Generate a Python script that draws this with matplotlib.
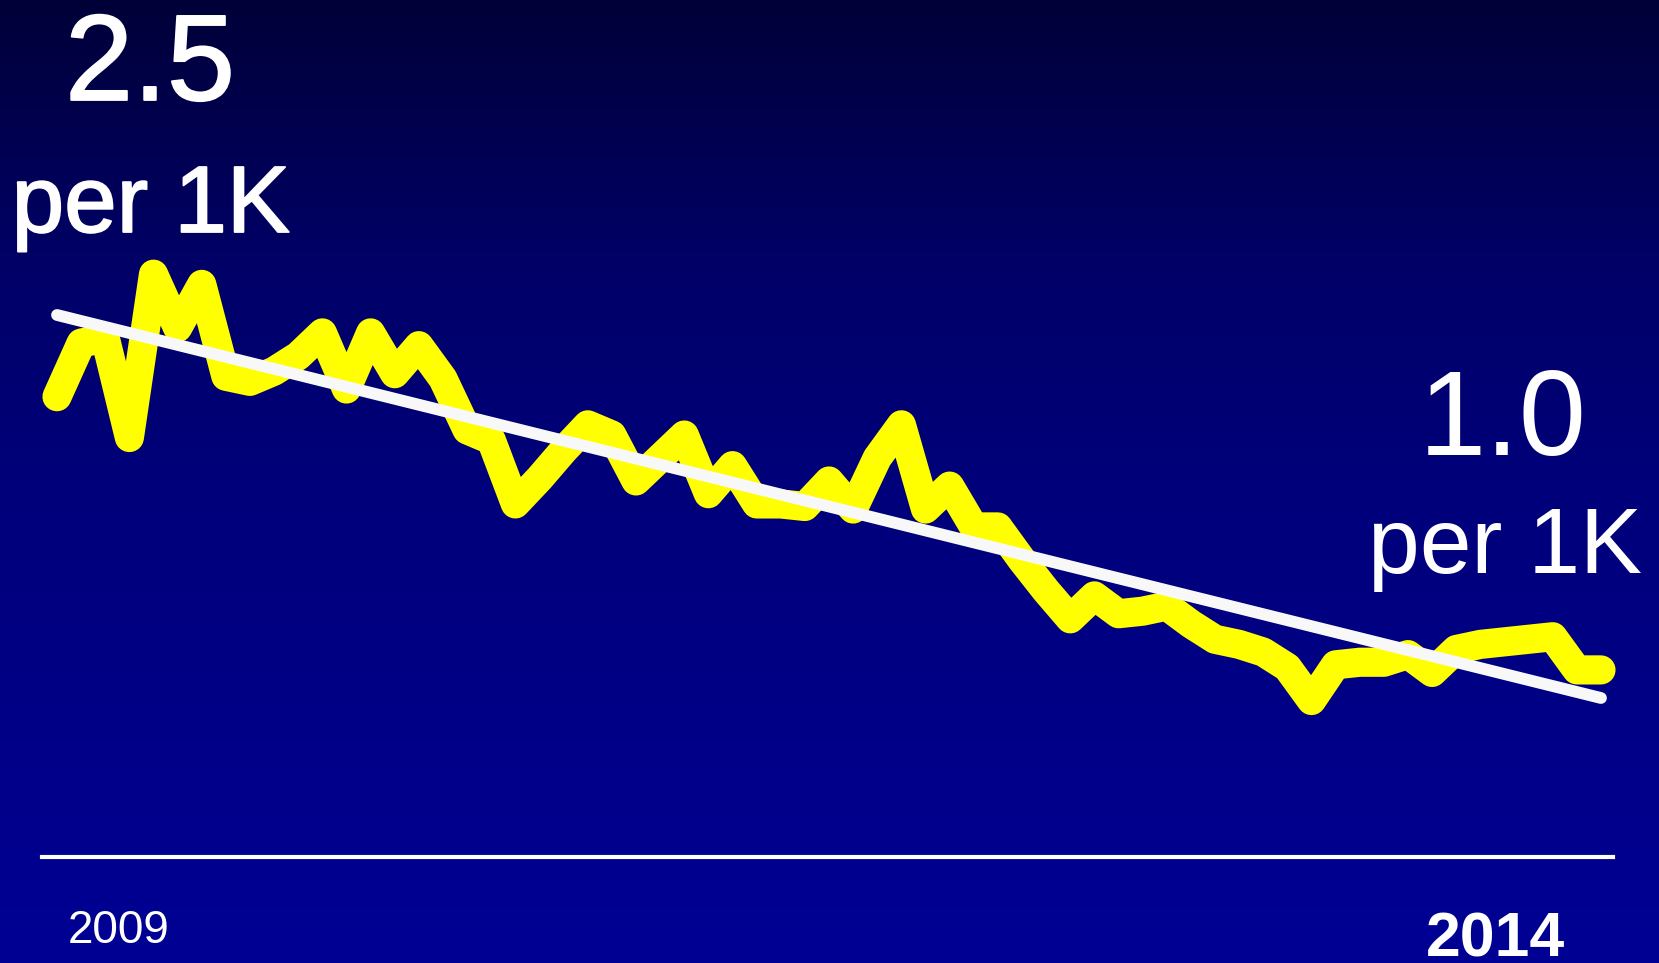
import numpy as np
import matplotlib
matplotlib.use("Agg")
import matplotlib.pyplot as plt
import matplotlib.patheffects as pe
from matplotlib.colors import LinearSegmentedColormap

# ---- data (rate per 1K, monthly 2009 -> 2014) ----
months = list(range(65))
rates = [2.18, 2.39, 2.41, 2.02, 2.66, 2.45, 2.62, 2.26, 2.24, 2.28,
         2.34, 2.43, 2.21, 2.43, 2.27, 2.38, 2.25, 2.05, 2.01, 1.76,
         1.86, 1.97, 2.07, 2.03, 1.85, 1.94, 2.03, 1.80, 1.91, 1.76,
         1.76, 1.75, 1.85, 1.74, 1.94, 2.07, 1.74, 1.83, 1.67, 1.67,
         1.54, 1.42, 1.31, 1.40, 1.33, 1.34, 1.36, 1.29, 1.23, 1.21,
         1.18, 1.12, 0.99, 1.13, 1.14, 1.14, 1.17, 1.10, 1.19, 1.21,
         1.22, 1.23, 1.24, 1.11, 1.11]
trend_x = [0, 64]
trend_y = [2.5, 1.0]
start_label = "2.5"
end_label = "1.0"
unit_label = "per 1K"
year_labels = ["2009", "2014"]

W, H = 1659, 963
fig = plt.figure(figsize=(W / 100, H / 100), dpi=100)

# background gradient
bg = fig.add_axes([0, 0, 1, 1], zorder=-10)
cmap = LinearSegmentedColormap.from_list(
    "bg", [(0.0, "#000038"), (0.28, "#000068"), (0.5, "#00007A"), (1.0, "#000094")])
grad = np.linspace(0, 1, 256).reshape(-1, 1)
bg.imshow(grad, aspect="auto", cmap=cmap, extent=[0, 1, 0, 1], origin="upper")
bg.set_axis_off()

# main axes: spans pixel x 42..1613, y 0..857 (from top)
ax = fig.add_axes([42 / W, (H - 857) / H, (1613 - 42) / W, 857 / H])
ax.patch.set_alpha(0)
px_per_unit = 383 / 1.5
ax.set_xlim((42 - 57) / 24.125, (1613 - 57) / 24.125)
ax.set_ylim(2.5 - (857 - 315) / px_per_unit, 2.5 + 315 / px_per_unit)

ax.plot(months, rates, color="#FFFF00", lw=21, solid_joinstyle="round",
        solid_capstyle="round", zorder=2, clip_on=False)
ax.plot(trend_x, trend_y, color="#F8F8F8", lw=8.5, solid_capstyle="round",
        zorder=3, clip_on=False)

for s in ["top", "left", "right"]:
    ax.spines[s].set_visible(False)
ax.spines["bottom"].set_color("white")
ax.spines["bottom"].set_linewidth(3)
ax.set_xticks([])
ax.set_yticks([])

font = "Liberation Sans"

def ftext(x, y, s, size, weight="normal", ha="center", heavy=False):
    t = fig.text(x / W, 1 - y / H, s, fontsize=size, color="white", ha=ha,
                 va="baseline", family=font, fontweight=weight)
    if heavy:
        t.set_path_effects([pe.withStroke(linewidth=1.3, foreground="white")])

ftext(150, 100, start_label, 88, heavy=True)
ftext(151, 232, unit_label, 68, heavy=True)
ftext(1503, 455, end_label, 87)
ftext(1505, 573, unit_label, 67)
ftext(119, 943, year_labels[0], 33)
ftext(1496, 956, year_labels[1], 45, weight="bold")

fig.savefig("out.png", dpi=100)
